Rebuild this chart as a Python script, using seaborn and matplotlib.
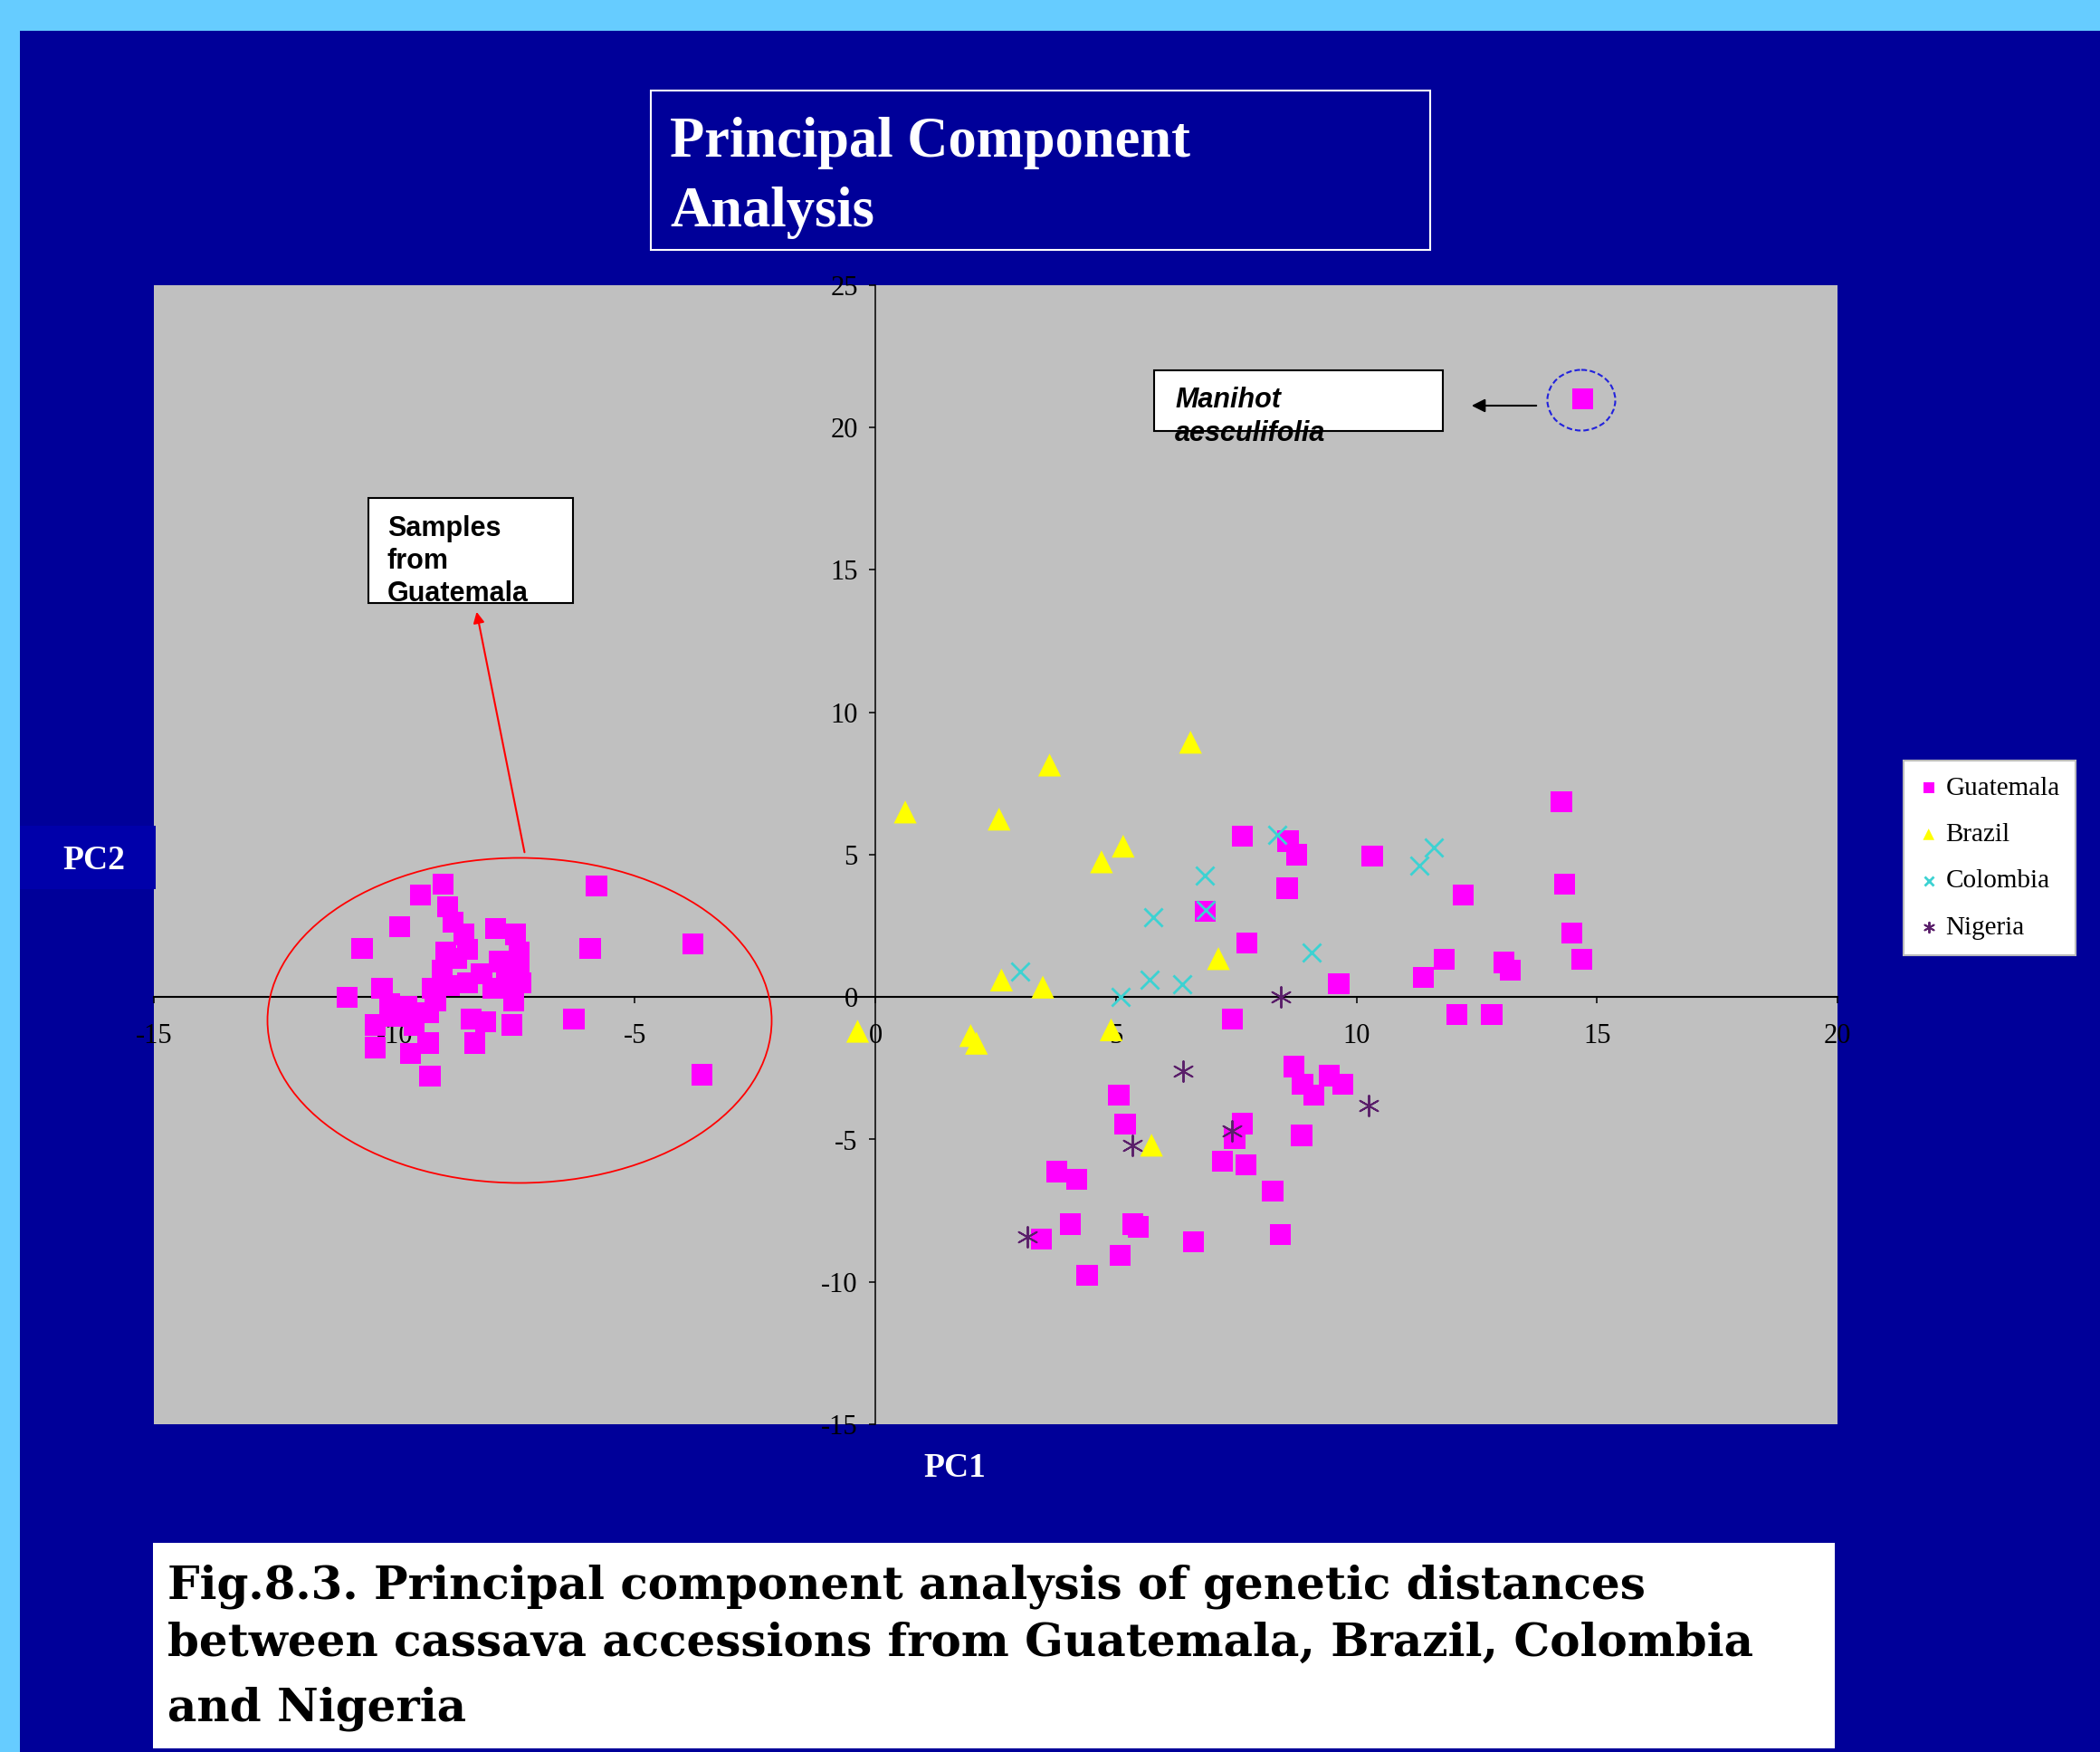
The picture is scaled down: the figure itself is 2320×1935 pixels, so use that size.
import matplotlib
matplotlib.use('Agg')
import matplotlib.pyplot as plt
import matplotlib.patches as mpatches
import matplotlib.transforms as mtransforms
from matplotlib.ticker import FixedLocator
import seaborn as sns

W, H = 2320, 1935

# --- data ---
guatemala_x = [-5.8, -5.93, -3.8, -3.6, -6.27, -10.98, -10.67, -9.89, -9.46, -8.99,
               -8.89, -8.78, -8.56, -8.93, -8.48, -7.89, -7.48, -7.41, -7.41, -7.37,
               -7.81, -8.19, -8.48, -8.85, -9.22, -10.26, -10.1, -9.74, -9.3, -9.59,
               -10.4, -10.4, -9.67, -9.26, -9.3, -8.41, -8.33, -8.11, -7.56, -7.52,
               -7.67, -7.96, -9.0, -8.7, -9.15, -9.96,
               7.63, 8.58, 8.76, 8.56, 6.85, 7.72, 9.63, 7.42, 10.33,
               8.7, 8.88, 9.11, 9.43, 9.72,
               5.06, 5.19, 7.63, 7.47, 7.22, 7.71, 8.26, 8.86, 8.42,
               3.77, 4.18, 4.05, 3.45, 5.35, 5.47, 5.09, 4.4, 6.61,
               14.26, 12.22, 14.32, 14.48, 14.68, 11.82, 11.39, 13.06, 13.2, 12.09, 12.81,
               14.7]
guatemala_y = [3.9, 1.7, 1.87, -2.73, -0.76, -0.02, 1.7, 2.47, 3.58, 3.96,
               3.16, 2.63, 2.2, 1.57, 1.68, 2.42, 2.2, 1.57, 1.04, 0.51,
               1.25, 0.83, 0.51, 0.4, 0.3, 0.3, -0.23, -0.34, -0.55, -0.98,
               -0.98, -1.77, -1.98, -2.78, -1.61, -0.76, -1.61, -0.87, -0.98, -0.13,
               0.51, 0.3, 0.93, 1.36, -0.13, -0.66,
               5.64, 5.48, 5.0, 3.82, 3.02, 1.9, 0.46, -0.77, 4.95,
               -2.44, -3.07, -3.44, -2.76, -3.07,
               -3.44, -4.46, -4.44, -4.97, -5.76, -5.89, -6.81, -4.86, -8.34,
               -6.13, -6.39, -7.97, -8.49, -7.97, -8.07, -9.07, -9.76, -8.6,
               6.86, 3.58, 3.96, 2.24, 1.32, 1.32, 0.68, 1.22, 0.95, -0.61, -0.61,
               21.0]

brazil_x = [0.62, 3.62, 2.57, 6.55, 5.15, 4.7, 2.62, 3.48, 7.13, -0.37, 1.98, 2.1, 4.9, 5.74]
brazil_y = [6.5, 8.15, 6.25, 8.95, 5.3, 4.75, 0.6, 0.35, 1.35, -1.2, -1.35, -1.62, -1.15, -5.2]

colombia_x = [3.0, 5.77, 6.84, 6.87, 5.69, 6.37, 5.09, 9.06, 8.35, 11.6, 11.31]
colombia_y = [0.9, 2.8, 4.27, 3.05, 0.62, 0.45, 0.0, 1.57, 5.7, 5.27, 4.61]

nigeria_x = [8.43, 6.4, 10.26, 5.35, 7.41, 3.15]
nigeria_y = [0.0, -2.6, -3.8, -5.2, -4.7, -8.42]

x_ticks = [-15, -10, -5, 0, 5, 10, 15, 20]
y_ticks = [-15, -10, -5, 0, 5, 10, 15, 20, 25]
grid_lines = [-10, -5, 5, 10, 15, 20]

caption_lines = ['Fig.8.3. Principal component analysis of genetic distances',
                 'between cassava accessions from Guatemala, Brazil, Colombia',
                 'and Nigeria']

plt.rcParams['font.family'] = ['Liberation Serif', 'DejaVu Serif']
plt.rcParams['axes.unicode_minus'] = False

fig = plt.figure(figsize=(W / 100, H / 100), dpi=100, facecolor='#66CCFF')
# pixel coords, origin top-left
pix = mtransforms.Affine2D().scale(1 / W, -1 / H).translate(0, 1) + fig.transFigure

fig.add_artist(mpatches.Rectangle((22, 34), W - 22, H - 34, transform=pix,
                                  facecolor='#000099', edgecolor='none', zorder=-10))

ax = fig.add_axes([170 / W, 1 - 1573 / H, 1860 / W, 1258 / H])
ax.set_facecolor('#C0C0C0')

sns.scatterplot(x=guatemala_x, y=guatemala_y, marker='s', s=280, color='#FF00FF',
                linewidth=0, edgecolor='none', label='Guatemala', ax=ax, zorder=3)
sns.scatterplot(x=brazil_x, y=brazil_y, marker='^', s=330, color='#FFFF00',
                linewidth=0, edgecolor='none', label='Brazil', ax=ax, zorder=3)
sns.scatterplot(x=colombia_x, y=colombia_y, marker='x', s=210, color='#3CD2D2',
                linewidth=2.0, label='Colombia', ax=ax, zorder=3)
sns.scatterplot(x=nigeria_x, y=nigeria_y, marker=(6, 2, 0), s=270, color='#5A1E6A',
                linewidth=1.4, label='Nigeria', ax=ax, zorder=3)

ax.set_xlim(-15, 20)
ax.set_ylim(-15, 25)
ax.xaxis.set_major_locator(FixedLocator(x_ticks))
ax.yaxis.set_major_locator(FixedLocator(y_ticks))
ax.yaxis.set_minor_locator(FixedLocator(grid_lines))
ax.grid(axis='y', which='minor', color='black', linewidth=1.5)
ax.grid(axis='y', which='major', visible=False)
ax.grid(axis='x', visible=False)
ax.set_axisbelow(True)
ax.set_xlabel('')
ax.set_ylabel('')

for side in ['top', 'right']:
    ax.spines[side].set_visible(False)
ax.spines['left'].set_position(('data', 0))
ax.spines['bottom'].set_position(('data', 0))
ax.spines['left'].set_linewidth(1.1)
ax.spines['bottom'].set_linewidth(1.5)
ax.tick_params(axis='x', which='major', direction='out', length=5, width=1.1,
               pad=16, labelsize=22, labelcolor='black')
ax.tick_params(axis='y', which='major', direction='out', length=5, width=1.1,
               pad=9, labelsize=22, labelcolor='black')
ax.tick_params(axis='y', which='minor', length=0)

leg = ax.legend(loc='upper left', bbox_to_anchor=(2103 / W, 1 - 840 / H),
                bbox_transform=fig.transFigure, frameon=True, fancybox=False,
                framealpha=1, facecolor='white', edgecolor='#BBBBBB',
                prop={'family': 'Liberation Serif', 'size': 21}, markerscale=0.5,
                handlelength=0.7, handletextpad=0.3, labelspacing=0.85,
                borderpad=0.6, borderaxespad=0)
leg.get_frame().set_linewidth(1.5)

# title box
fig.add_artist(mpatches.Rectangle((719, 100), 861, 176, transform=pix, fill=False,
                                  edgecolor='white', linewidth=1.5))
fig.text(740 / W, 1 - 173 / H, 'Principal Component', color='white', fontsize=45,
         fontweight='bold', family='Liberation Serif', va='baseline')
fig.text(740 / W, 1 - 250 / H, 'Analysis', color='white', fontsize=45,
         fontweight='bold', family='Liberation Serif', va='baseline')

# axis labels
fig.add_artist(mpatches.Rectangle((22, 912), 150, 70, transform=pix,
                                  facecolor='#0000AA', edgecolor='none'))
fig.text(104 / W, 1 - 960 / H, 'PC2', color='white', fontsize=27, fontweight='bold',
         family='Liberation Serif', ha='center', va='baseline')
fig.text(1055 / W, 1 - 1631 / H, 'PC1', color='white', fontsize=27, fontweight='bold',
         family='Liberation Serif', ha='center', va='baseline')

# "Samples from Guatemala" note
fig.add_artist(mpatches.Rectangle((407, 550), 226, 116, transform=pix,
                                  facecolor='white', edgecolor='black', linewidth=1.5))
clip = mtransforms.TransformedBbox(
    mtransforms.Bbox.from_extents(407 / W, 1 - 666 / H, 633 / W, 1 - 550 / H),
    fig.transFigure)
for txt, yb in zip(['Samples', 'from', 'Guatemala'], [592, 628, 664]):
    t = fig.text(428 / W, 1 - yb / H, txt, fontsize=22, fontweight='bold',
                 family=['Liberation Sans Narrow', 'Liberation Sans'], va='baseline')
    t.set_clip_box(clip)
    t.set_clip_on(True)
fig.add_artist(mpatches.FancyArrowPatch((580, 944), (526, 673), transform=pix,
                                        arrowstyle='-|>', mutation_scale=18,
                                        color='red', linewidth=1.5))
fig.add_artist(mpatches.Ellipse((574, 1127), 557, 359, transform=pix, fill=False,
                                edgecolor='red', linewidth=1.3))

# Manihot aesculifolia note
fig.add_artist(mpatches.Rectangle((1275, 409), 319, 67, transform=pix,
                                  facecolor='white', edgecolor='black', linewidth=1.5))
fig.text(1298 / W, 1 - 450 / H, 'Manihot', fontsize=22, fontweight='bold',
         style='italic', family='Liberation Sans', va='baseline')
fig.text(1298 / W, 1 - 487 / H, 'aesculifolia', fontsize=22, fontweight='bold',
         style='italic', family='Liberation Sans', va='baseline')
fig.add_artist(mpatches.FancyArrowPatch((1700, 448), (1623, 448), transform=pix,
                                        arrowstyle='-|>', mutation_scale=22,
                                        color='black', linewidth=1.5))
fig.add_artist(mpatches.Ellipse((1747, 442), 75, 67, transform=pix, fill=False,
                                edgecolor='#2222DD', linewidth=1.5,
                                linestyle=(0, (3, 1.5))))

# caption
fig.add_artist(mpatches.Rectangle((169, 1704), 1858, 227, transform=pix,
                                  facecolor='white', edgecolor='none'))
for line, yb in zip(caption_lines, [1765, 1829, 1900]):
    fig.text(185 / W, 1 - yb / H, line, fontsize=36, fontweight='bold',
             family='DejaVu Serif', va='baseline', color='black')

fig.savefig('out.png', dpi=100, facecolor=fig.get_facecolor())
